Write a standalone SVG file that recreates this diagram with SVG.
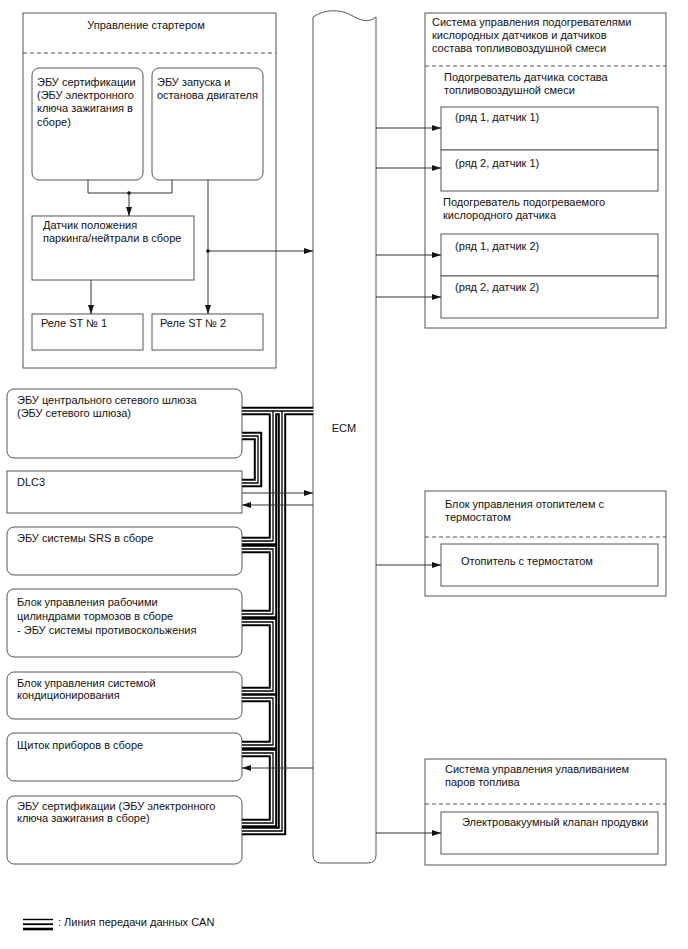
<svg xmlns="http://www.w3.org/2000/svg" xmlns:xlink="http://www.w3.org/1999/xlink" width="688" height="949" viewBox="0 0 688 949">
<style>
text{font-family:"Liberation Sans",Arial,sans-serif;font-size:11px;fill:#111}
.box{fill:#fff;stroke:#555;stroke-width:1}
.dash{fill:none;stroke:#555;stroke-width:1;stroke-dasharray:4,3}
.ln{fill:none;stroke:#333;stroke-width:1}
.arr{fill:none;stroke:#333;stroke-width:1;marker-end:url(#ah)}
.c1{fill:none;stroke:#000;stroke-width:8.4}
.c2{fill:none;stroke:#fff;stroke-width:4.4}
.c3{fill:none;stroke:#000;stroke-width:1.3}
.lg{stroke:#000}
</style>
<defs>
<marker id="ah" markerUnits="userSpaceOnUse" markerWidth="10" markerHeight="8" refX="9" refY="4" orient="auto">
<path d="M0,1 L9,4 L0,7 Z" fill="#111"/>
</marker>
<path id="k1" d="M242,411 H313"/>
<path id="k2" d="M282,411 V831 H242"/>
<path id="k3" d="M242,436 H258 V483 H242"/>
<path id="k4" d="M273,411 V541 H242"/>
<path id="k5" d="M242,549 H273 V614 H242"/>
<path id="k6" d="M242,622 H273 V691 H242"/>
<path id="k7" d="M242,698 H273 V745 H242"/>
<path id="k8" d="M242,753 H273 V823 H242"/>
</defs>

<g id="starter">
<rect class="box" x="23" y="13" width="253" height="355"/>
<line class="dash" x1="23" y1="53" x2="276" y2="53"/>
<text x="146" y="29" text-anchor="middle">Управление стартером</text>
</g>
<g id="cert-ecu-top">
<rect class="box" x="32" y="68" width="111" height="112" rx="7"/>
<text x="37" y="86">ЭБУ сертификации</text>
<text x="37" y="99">(ЭБУ электронного</text>
<text x="37" y="112">ключа зажигания в</text>
<text x="37" y="126">сборе)</text>
</g>
<g id="start-ecu">
<rect class="box" x="152" y="68" width="111" height="112" rx="7"/>
<text x="157" y="86">ЭБУ запуска и</text>
<text x="157" y="99">останова двигателя</text>
</g>
<g id="pn-sensor">
<rect class="box" x="32" y="216" width="162" height="64"/>
<text x="43" y="229">Датчик положения</text>
<text x="43" y="242">паркинга/нейтрали в сборе</text>
</g>
<g id="relay1">
<rect class="box" x="32" y="314" width="111" height="36"/>
<text x="41" y="327">Реле ST № 1</text>
</g>
<g id="relay2">
<rect class="box" x="152" y="314" width="111" height="36"/>
<text x="160" y="327">Реле ST № 2</text>
</g>

<g id="ecm">
<path class="box" d="M313,17 C325,9 340,9 351,15 C361,21 369,23 376,17 L376,855 Q376,863 368,863 L321,863 Q313,863 313,855 Z"/>
<text x="344" y="432" text-anchor="middle">ECM</text>
</g>

<g id="o2-heater-system">
<rect class="box" x="425" y="13" width="241" height="315"/>
<line class="dash" x1="425" y1="66" x2="666" y2="66"/>
<text x="432" y="26">Система управления подогревателями</text>
<text x="432" y="39">кислородных датчиков и датчиков</text>
<text x="432" y="52">состава топливовоздушной смеси</text>
<text x="444" y="81">Подогреватель датчика состава</text>
<text x="444" y="94">топливовоздушной смеси</text>
<text x="443" y="206">Подогреватель подогреваемого</text>
<text x="443" y="219">кислородного датчика</text>
</g>
<g id="af-b1s1">
<rect class="box" x="441" y="107" width="217" height="43"/>
<text x="455" y="121">(ряд 1, датчик 1)</text>
</g>
<g id="af-b2s1">
<rect class="box" x="441" y="150" width="217" height="41"/>
<text x="455" y="167">(ряд 2, датчик 1)</text>
</g>
<g id="o2-b1s2">
<rect class="box" x="441" y="234" width="217" height="42"/>
<text x="455" y="250">(ряд 1, датчик 2)</text>
</g>
<g id="o2-b2s2">
<rect class="box" x="441" y="276" width="217" height="42"/>
<text x="455" y="291">(ряд 2, датчик 2)</text>
</g>

<g id="thermostat-system">
<rect class="box" x="425" y="491" width="241" height="105"/>
<line class="dash" x1="425" y1="537" x2="666" y2="537"/>
<text x="445" y="508">Блок управления отопителем с</text>
<text x="445" y="521">термостатом</text>
</g>
<g id="thermostat-heater">
<rect class="box" x="441" y="544" width="217" height="42"/>
<text x="461" y="565">Отопитель с термостатом</text>
</g>

<g id="evap-system">
<rect class="box" x="425" y="759" width="241" height="106"/>
<line class="dash" x1="425" y1="804" x2="666" y2="804"/>
<text x="445" y="773">Система управления улавливанием</text>
<text x="445" y="786">паров топлива</text>
</g>
<g id="purge-vsv">
<rect class="box" x="441" y="812" width="217" height="42"/>
<text x="462" y="826">Электровакуумный клапан продувки</text>
</g>

<g id="gateway">
<rect class="box" x="7" y="389" width="235" height="69" rx="7"/>
<text x="17" y="404">ЭБУ центрального сетевого шлюза</text>
<text x="17" y="417">(ЭБУ сетевого шлюза)</text>
</g>
<g id="dlc3">
<rect class="box" x="7" y="471" width="235" height="42"/>
<text x="17" y="486">DLC3</text>
</g>
<g id="srs">
<rect class="box" x="7" y="527" width="235" height="48" rx="7"/>
<text x="17" y="542">ЭБУ системы SRS в сборе</text>
</g>
<g id="brake">
<rect class="box" x="7" y="589" width="235" height="68" rx="7"/>
<text x="17" y="606">Блок управления рабочими</text>
<text x="17" y="620">цилиндрами тормозов в сборе</text>
<text x="17" y="634">- ЭБУ системы противоскольжения</text>
</g>
<g id="ac">
<rect class="box" x="7" y="672" width="235" height="47" rx="7"/>
<text x="17" y="687">Блок управления системой</text>
<text x="17" y="699">кондиционирования</text>
</g>
<g id="cluster">
<rect class="box" x="7" y="733" width="235" height="48" rx="7"/>
<text x="17" y="749">Щиток приборов в сборе</text>
</g>
<g id="cert-ecu">
<rect class="box" x="7" y="796" width="235" height="68" rx="7"/>
<text x="17" y="810">ЭБУ сертификации (ЭБУ электронного</text>
<text x="17" y="822">ключа зажигания в сборе)</text>
</g>

<g id="can-bus">
<use xlink:href="#k1" class="c1"/><use xlink:href="#k2" class="c1"/><use xlink:href="#k3" class="c1"/><use xlink:href="#k4" class="c1"/><use xlink:href="#k5" class="c1"/><use xlink:href="#k6" class="c1"/><use xlink:href="#k7" class="c1"/><use xlink:href="#k8" class="c1"/>
<use xlink:href="#k1" class="c2"/><use xlink:href="#k2" class="c2"/><use xlink:href="#k3" class="c2"/><use xlink:href="#k4" class="c2"/><use xlink:href="#k5" class="c2"/><use xlink:href="#k6" class="c2"/><use xlink:href="#k7" class="c2"/><use xlink:href="#k8" class="c2"/>
<use xlink:href="#k1" class="c3"/><use xlink:href="#k2" class="c3"/><use xlink:href="#k3" class="c3"/><use xlink:href="#k4" class="c3"/><use xlink:href="#k5" class="c3"/><use xlink:href="#k6" class="c3"/><use xlink:href="#k7" class="c3"/><use xlink:href="#k8" class="c3"/>
</g>

<g id="connectors">
<path class="ln" d="M88,180 V193 H172 V180"/>
<circle cx="129" cy="193" r="1.8" fill="#111"/>
<path class="arr" d="M129,193 V216"/>
<path class="arr" d="M208,180 V314"/>
<circle cx="208" cy="251" r="1.8" fill="#111"/>
<path class="arr" d="M208,251 H313"/>
<path class="arr" d="M91,280 V314"/>
<path class="arr" d="M376,128 H441"/>
<path class="arr" d="M376,168 H441"/>
<path class="arr" d="M376,255 H441"/>
<path class="arr" d="M376,297 H441"/>
<path class="arr" d="M376,565 H441"/>
<path class="arr" d="M376,833 H441"/>
<path class="arr" d="M242,493 H313"/>
<path class="arr" d="M313,505 H242"/>
<path class="arr" d="M313,768 H242"/>
</g>

<g id="legend">
<line class="lg" x1="23" y1="919.5" x2="53" y2="919.5" stroke-width="1.4"/>
<line class="lg" x1="23" y1="924.2" x2="53" y2="924.2" stroke-width="1.8"/>
<line class="lg" x1="23" y1="929" x2="53" y2="929" stroke-width="2.6"/>
<text x="58" y="926">: Линия передачи данных CAN</text>
</g>
</svg>
